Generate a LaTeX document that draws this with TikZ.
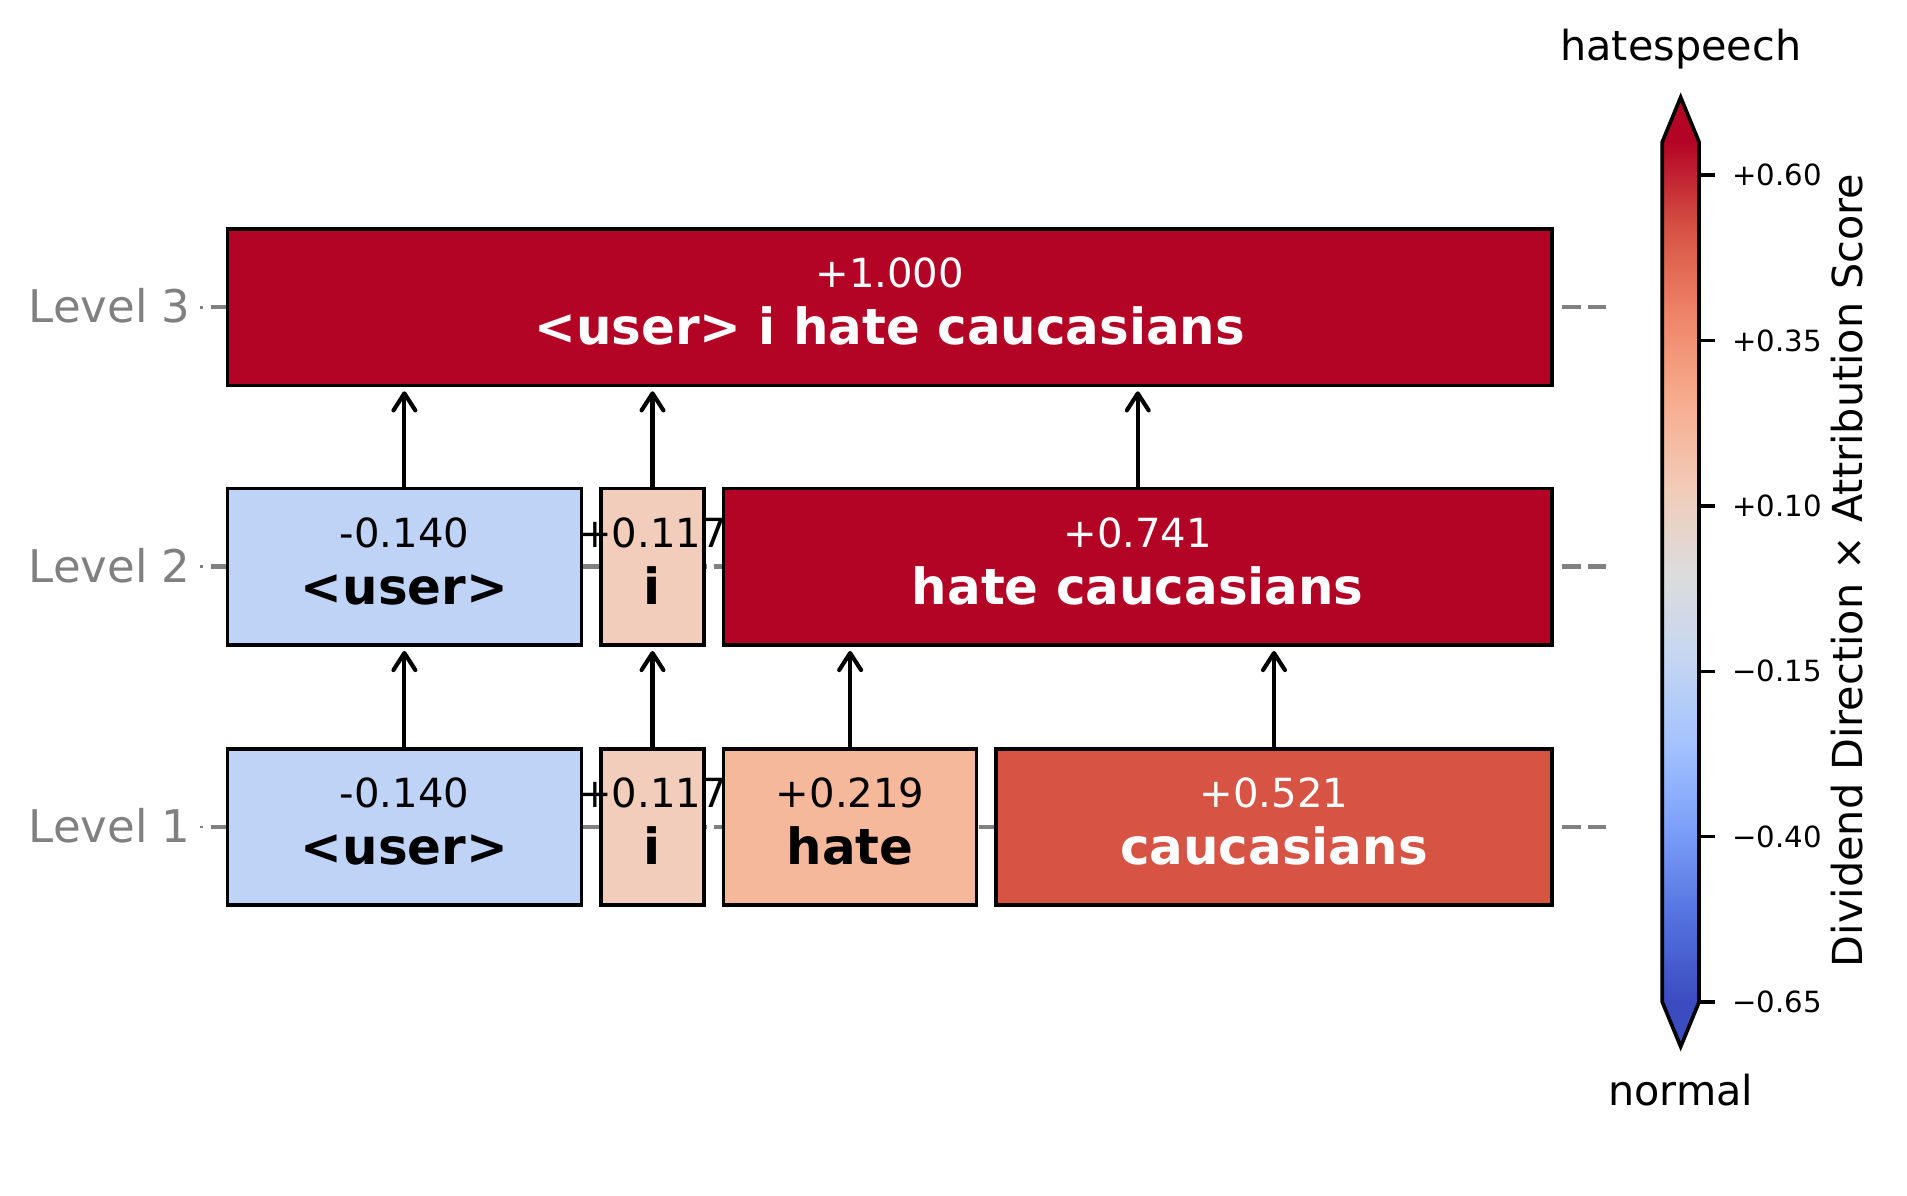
\documentclass[tikz,border=0pt]{standalone}
\usepackage{fontspec}
\setmainfont{DejaVu Sans}
\usetikzlibrary{arrows.meta}

% coolwarm colours
\definecolor{cw00}{HTML}{3B4CC0}
\definecolor{cw01}{HTML}{5572DF}
\definecolor{cw02}{HTML}{7B9FF9}
\definecolor{cw03}{HTML}{A3C2FE}
\definecolor{cw04}{HTML}{C5D6F2}
\definecolor{cw05}{HTML}{DDDCDC}
\definecolor{cw06}{HTML}{F2CBB7}
\definecolor{cw07}{HTML}{F7AC8E}
\definecolor{cw08}{HTML}{EE8468}
\definecolor{cw09}{HTML}{D65244}
\definecolor{cw10}{HTML}{B40426}
\definecolor{userblue}{HTML}{BFD3F6}
\definecolor{ipeach}{HTML}{F2CDBB}
\definecolor{hatesalmon}{HTML}{F6B89B}
\definecolor{caucred}{HTML}{D75445}
\definecolor{lvlgray}{HTML}{808080}

\pgfdeclareverticalshading{coolwarm}{100bp}{color(0bp)=(cw00); color(25bp)=(cw00);
  color(30bp)=(cw01); color(35bp)=(cw02); color(40bp)=(cw03); color(45bp)=(cw04);
  color(50bp)=(cw05); color(55bp)=(cw06); color(60bp)=(cw07); color(65bp)=(cw08);
  color(70bp)=(cw09); color(75bp)=(cw10); color(100bp)=(cw10)}

\begin{document}
\begin{tikzpicture}[x=0.5pt, y=-0.5pt,
  tok/.style={draw=black, line width=1.4pt, inner sep=0pt, outer sep=0pt, minimum height=64.25pt},
  val/.style={anchor=base, yshift=8pt, inner sep=0pt, font=\fontsize{16.5}{18}\selectfont},
  word/.style={anchor=base, yshift=-15.5pt, inner sep=0pt, font=\fontsize{20.5}{22}\selectfont\bfseries},
  up/.style={line width=1.7pt, -{Straight Barb[length=7pt,width=9pt,round]}, shorten >=2.5pt},
  lvl/.style={anchor=east, inner sep=0pt, text=lvlgray, font=\fontsize{18.5}{20}\selectfont},
  guide/.style={draw=lvlgray, line width=1.9pt, dash pattern=on 7.7pt off 3.19pt},
  cbtick/.style={anchor=west, inner sep=0pt, font=\fontsize{12}{14}\selectfont},
  ]
	\useasboundingbox (0,0) rectangle (1568,983);

	% level labels and guide lines
	\node[lvl] (lvl3) at (157,251) {Level 3};
	\node[lvl] (lvl2) at (157,465) {Level 2};
	\node[lvl] (lvl1) at (157,679) {Level 1};
	\draw[lvlgray, line width=1.2pt] (164.3,252.5) -- (166.8,252.5);
	\draw[lvlgray, line width=1.2pt] (164.3,466) -- (166.8,466);
	\draw[lvlgray, line width=1.2pt] (164.3,680) -- (166.8,680);
	\draw[guide] (173.5,252.5) -- (1320.5,252.5);
	\draw[guide] (173.5,466) -- (1320.5,466);
	\draw[guide] (173.5,680) -- (1320.5,680);

	% level 3
	\node[tok, fill=cw10, minimum width=544.5pt] (l3) at (731.5,252.5) {};
	% level 2
	\node[tok, fill=userblue, minimum width=145.5pt] (l2user) at (332.5,466) {};
	\node[tok, fill=ipeach, minimum width=42.5pt] (l2i) at (536.5,466) {};
	\node[tok, fill=cw10, minimum width=340.5pt] (l2hc) at (935.5,466) {};
	% level 1
	\node[tok, fill=userblue, minimum width=145.5pt] (l1user) at (332.5,680) {};
	\node[tok, fill=ipeach, minimum width=42.5pt] (l1i) at (536.5,680) {};
	\node[tok, fill=hatesalmon, minimum width=104pt] (l1hate) at (699,680) {};
	\node[tok, fill=caucred, minimum width=228.5pt] (l1cauc) at (1047.5,680) {};

	% scores and tokens
	\node[val, text=white] (l3v) at (l3) {+1.000};
	\node[word, text=white] (l3w) at (l3) {<user> i hate caucasians};
	\node[val] (l2userv) at (l2user) {-0.140};
	\node[word] (l2userw) at (l2user) {<user>};
	\node[val] (l2iv) at (l2i) {+0.117};
	\node[word] (l2iw) at (l2i) {i};
	\node[val, text=white] (l2hcv) at (l2hc) {+0.741};
	\node[word, text=white] (l2hcw) at (l2hc) {hate caucasians};
	\node[val] (l1userv) at (l1user) {-0.140};
	\node[word] (l1userw) at (l1user) {<user>};
	\node[val] (l1iv) at (l1i) {+0.117};
	\node[word] (l1iw) at (l1i) {i};
	\node[val] (l1hatev) at (l1hate) {+0.219};
	\node[word] (l1hatew) at (l1hate) {hate};
	\node[val, text=white] (l1caucv) at (l1cauc) {+0.521};
	\node[word, text=white] (l1caucw) at (l1cauc) {caucasians};

	% merges
	\draw[up] (l1user.north) -- (l2user.south);
	\draw[up] (l1i.north) -- (l2i.south);
	\draw[up] (l1hate.north) -- (l1hate.north |- l2hc.south);
	\draw[up] (l1cauc.north) -- (l1cauc.north |- l2hc.south);
	\draw[up] (l2user.north) -- (l2user.north |- l3.south);
	\draw[up] (l2i.north) -- (l2i.north |- l3.south);
	\draw[up] (l2hc.north) -- (l2hc.north |- l3.south);

	% colorbar
	\fill[cw10] (1366.8,116.7) -- (1381.9,80) -- (1397,116.7) -- cycle;
	\fill[cw00] (1366.8,823.9) -- (1381.9,860.6) -- (1397,823.9) -- cycle;
	\shade[shading=coolwarm] (1366.8,116.7) rectangle (1397,823.9);
	\draw[line width=1.5pt] (1366.8,116.7) -- (1381.9,80) -- (1397,116.7) -- (1397,823.9)
		-- (1381.9,860.6) -- (1366.8,823.9) -- cycle;
	\draw[line width=1.4pt] (1397,143.9) -- (1410,143.9);
	\draw[line width=1.4pt] (1397,279.9) -- (1410,279.9);
	\draw[line width=1.4pt] (1397,415.9) -- (1410,415.9);
	\draw[line width=1.4pt] (1397,551.9) -- (1410,551.9);
	\draw[line width=1.4pt] (1397,687.9) -- (1410,687.9);
	\draw[line width=1.4pt] (1397,823.9) -- (1410,823.9);
	\node[cbtick] (t060) at (1424,143.9) {+0.60};
	\node[cbtick] (t035) at (1424,279.9) {+0.35};
	\node[cbtick] (t010) at (1424,415.9) {+0.10};
	\node[cbtick] (t015) at (1424,551.9) {−0.15};
	\node[cbtick] (t040) at (1424,687.9) {−0.40};
	\node[cbtick] (t065) at (1424,823.9) {−0.65};
	\node[anchor=base, font=\fontsize{17}{19}\selectfont] (hatespeech) at (1382,50) {hatespeech};
	\node[anchor=base, font=\fontsize{17}{19}\selectfont] (normal) at (1382,908.6) {normal};
	\node[rotate=90, anchor=base, inner sep=0pt, font=\fontsize{17}{19}\selectfont] (cblabel)
		at (1531,469) {Dividend Direction × Attribution Score};
\end{tikzpicture}
\end{document}
